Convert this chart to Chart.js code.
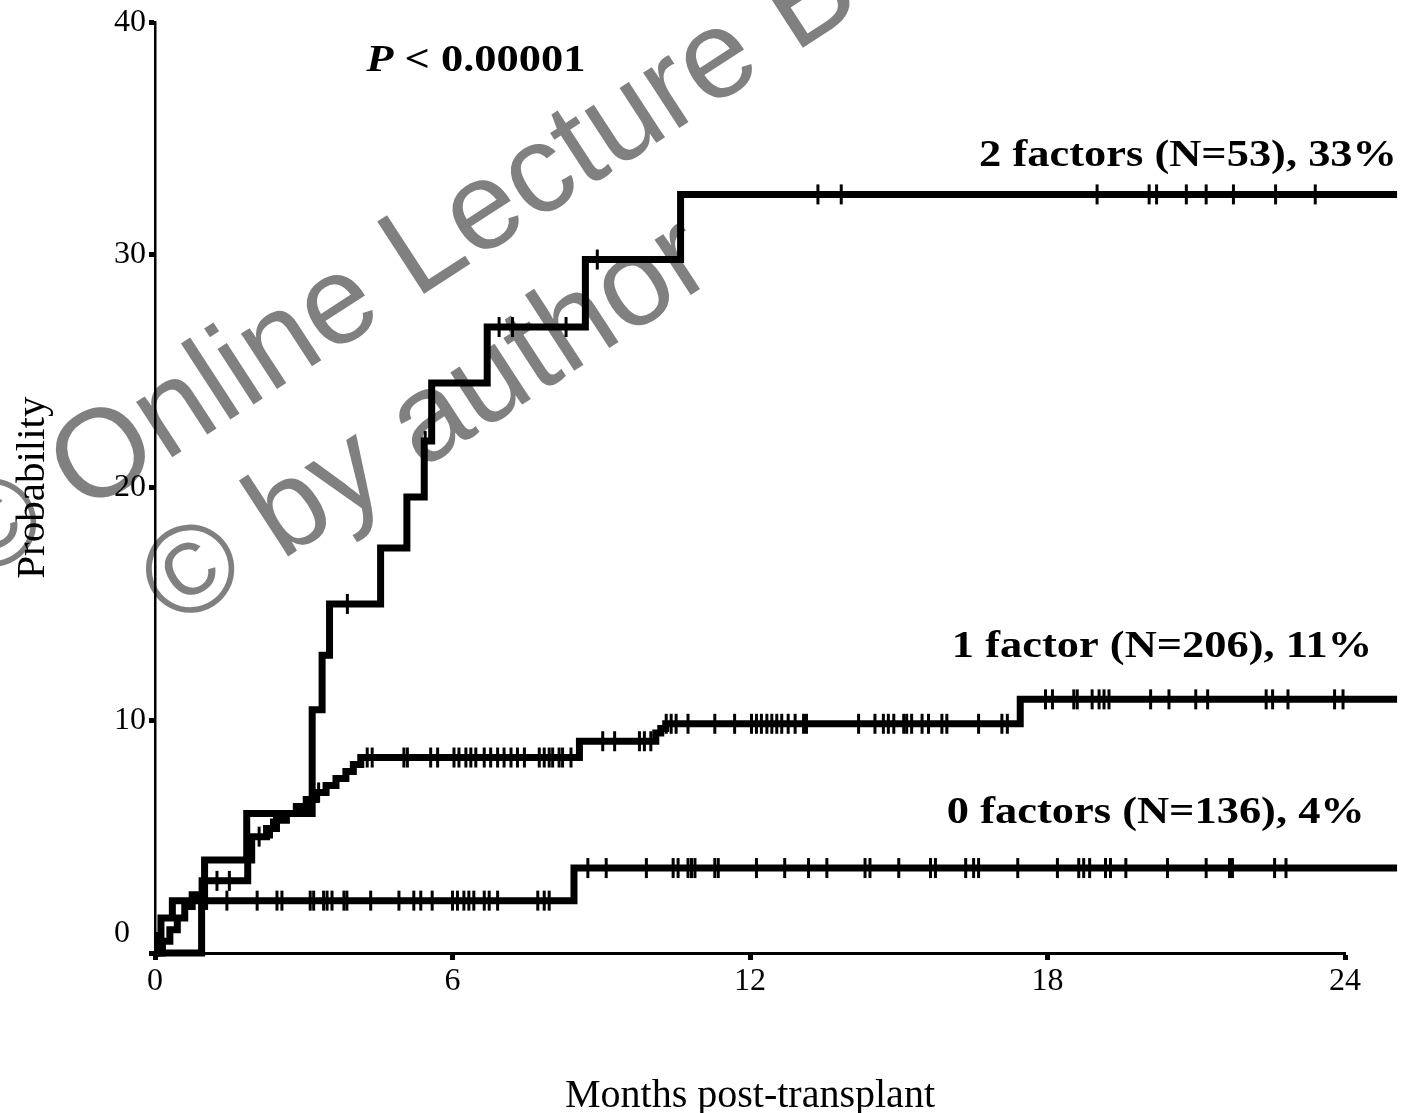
<!DOCTYPE html>
<html>
<head>
<meta charset="utf-8">
<script src="https://cdn.jsdelivr.net/npm/chart.js@4/dist/chart.umd.min.js"></script>
<style>
  html, body { margin: 0; padding: 0; background: #ffffff; }
  #wrap { width: 1412px; height: 1113px; position: relative; }
</style>
</head>
<body>
<div id="wrap"><canvas id="c"></canvas></div>
<script>
// ---------- tick labels / texts ----------
const xTickValues = [0, 6, 12, 18, 24];
const yTickValues = [0, 10, 20, 30, 40];
const xAxisTitle = 'Months post-transplant';
const yAxisTitle = 'Probability';
const pValueLetter = 'P';
const pValueRest = ' < 0.00001';
const seriesNames = ['2 factors (N=53), 33%', '1 factor (N=206), 11%', '0 factors (N=136), 4%'];
const watermarkLines = ['\u00A9 Online Lecture B', '\u00A9 by author'];

// ---------- 2 factors: step curve (month, %) and censor times ----------
const months2 = [0, 0.94, 1.0, 1.85, 3.17, 3.37, 3.52, 4.55, 5.08, 5.43, 5.58, 6.7, 8.68, 10.6, 25.05];
const prob2   = [0, 2.0, 4.0, 6.0, 10.45, 12.8, 15.0, 17.4, 19.6, 22.0, 24.5, 26.9, 29.8, 32.6, 32.6];
const censor2 = [3.88, 5.45, 6.94, 7.21, 8.29, 8.92, 13.37, 13.84, 19.0, 20.05, 20.2, 20.8, 21.2, 21.75, 22.6, 23.4];

// ---------- 1 factor ----------
const months1 = [0, 0.15, 0.3, 0.45, 0.6, 0.75, 0.95, 1.87, 1.95, 2.25, 2.45, 2.65, 2.85, 3.05, 3.25, 3.45, 3.65, 3.85, 4.0, 4.15, 8.56, 10.1, 10.2, 10.3, 17.45, 25.05];
const prob1   = [0, 0.5, 1.0, 1.5, 2.0, 2.5, 3.1, 4.0, 5.0, 5.35, 5.7, 6.0, 6.3, 6.6, 6.9, 7.2, 7.5, 7.8, 8.1, 8.4, 9.1, 9.45, 9.65, 9.85, 10.9, 10.9];
const censor1 = [1.25, 1.5, 2.1, 2.35, 3.15, 3.3, 4.28, 4.38, 5.02, 5.09, 5.56, 5.7, 6.03, 6.13, 6.27, 6.37, 6.47, 6.64, 6.77, 6.91, 7.04, 7.18, 7.31, 7.45, 7.75, 7.85, 7.95, 8.02, 8.15, 8.22, 8.39, 9.03, 9.27, 9.77, 9.87, 10.0, 10.31, 10.41, 10.51, 10.75, 11.29, 11.69, 12.03, 12.13, 12.23, 12.34, 12.44, 12.54, 12.64, 12.77, 12.91, 13.08, 13.14, 14.19, 14.52, 14.69, 14.79, 14.9, 15.1, 15.16, 15.26, 15.47, 15.6, 15.87, 15.97, 16.61, 17.08, 17.19, 17.96, 18.1, 18.53, 18.6, 18.9, 19.04, 19.14, 19.24, 20.08, 20.45, 20.99, 21.23, 22.41, 22.54, 22.85, 23.79, 23.96];

// ---------- 0 factors ----------
const months0 = [0, 0.05, 0.12, 0.35, 8.45, 25.05];
const prob0   = [0, 0.75, 1.5, 2.25, 3.65, 3.65];
const censor0 = [1.45, 2.06, 2.46, 2.56, 3.13, 3.2, 3.4, 3.47, 3.57, 3.81, 3.87, 4.35, 4.92, 5.22, 5.36, 5.59, 6.0, 6.1, 6.23, 6.33, 6.43, 6.64, 6.74, 6.91, 7.72, 7.85, 7.95, 8.73, 9.1, 9.91, 10.45, 10.55, 10.75, 10.82, 10.89, 11.29, 11.36, 12.13, 12.7, 13.18, 13.55, 14.32, 14.42, 15.0, 15.64, 15.74, 16.35, 16.51, 16.61, 17.4, 18.2, 18.63, 18.73, 18.85, 19.17, 19.27, 19.58, 20.42, 21.2, 21.67, 21.73, 22.58, 22.81];

// ---------- layout (not data) ----------
const labelAnchorMonth = [25.05, 24.55, 24.4];   // right edge of each series label
const labelAnchorProb  = [33.8, 12.7, 5.6];      // baseline of each series label
const pAnchor = { month: 4.26, prob: 37.9 };
const textStretch = 1.17;

// ---------- helpers ----------
function stepPoints(ts, vs) { return ts.map((t, i) => ({ x: t, y: vs[i] })); }
function levelAt(ts, vs, t) {
  let v = vs[0];
  for (let i = 0; i < ts.length; i++) { if (ts[i] <= t) v = vs[i]; else break; }
  return v;
}
function censorPoints(cs, ts, vs) { return cs.map(t => ({ x: t, y: levelAt(ts, vs, t) })); }

const lineStyle = {
  type: 'line', stepped: true, borderColor: '#000', borderWidth: 7, pointRadius: 0,
  fill: false, clip: false, tension: 0, borderJoinStyle: 'miter', borderCapStyle: 'butt'
};
const censorStyle = {
  type: 'scatter', showLine: false, pointStyle: 'line', pointRadius: 10, pointHoverRadius: 10,
  pointRotation: 90, pointBorderColor: '#000', pointBorderWidth: 3, borderColor: '#000',
  backgroundColor: '#000', clip: false
};

const annotate = {
  id: 'annotate',
  beforeDraw(chart) {
    const ctx = chart.ctx;
    ctx.save();
    ctx.fillStyle = '#ffffff';
    ctx.fillRect(0, 0, chart.width, chart.height);
    ctx.fillStyle = '#808080';
    ctx.font = '125px "Liberation Sans", Arial, sans-serif';
    ctx.textAlign = 'left';
    ctx.textBaseline = 'alphabetic';
    const starts = [[-23, 584], [175, 630]];
    watermarkLines.forEach((txt, i) => {
      ctx.save();
      ctx.translate(starts[i][0], starts[i][1]);
      ctx.rotate(-33 * Math.PI / 180);
      ctx.fillText(txt, 0, 0);
      ctx.restore();
    });
    ctx.restore();
  },
  afterDraw(chart) {
    const ctx = chart.ctx;
    const xs = chart.scales.x, ys = chart.scales.y;
    ctx.save();
    ctx.fillStyle = '#000';
    ctx.textBaseline = 'alphabetic';
    // series labels
    ctx.font = 'bold 38px "Liberation Serif", "Times New Roman", serif';
    seriesNames.forEach((name, i) => {
      ctx.save();
      ctx.translate(xs.getPixelForValue(labelAnchorMonth[i]), ys.getPixelForValue(labelAnchorProb[i]));
      ctx.scale(textStretch, 1);
      ctx.textAlign = 'right';
      ctx.fillText(name, 0, 0);
      ctx.restore();
    });
    // P value
    ctx.save();
    ctx.translate(xs.getPixelForValue(pAnchor.month), ys.getPixelForValue(pAnchor.prob));
    ctx.scale(textStretch, 1);
    ctx.textAlign = 'left';
    ctx.font = 'italic bold 38px "Liberation Serif", "Times New Roman", serif';
    ctx.fillText(pValueLetter, 0, 0);
    const w = ctx.measureText(pValueLetter).width;
    ctx.font = 'bold 38px "Liberation Serif", "Times New Roman", serif';
    ctx.fillText(pValueRest, w, 0);
    ctx.restore();
    ctx.restore();
  }
};

const serif = '"Liberation Serif", "Times New Roman", serif';

new Chart(document.getElementById('c'), {
  type: 'scatter',
  data: {
    datasets: [
      Object.assign({ label: seriesNames[0], data: stepPoints(months2, prob2) }, lineStyle),
      Object.assign({ label: seriesNames[1], data: stepPoints(months1, prob1) }, lineStyle),
      Object.assign({ label: seriesNames[2], data: stepPoints(months0, prob0) }, lineStyle),
      Object.assign({ label: 'censored 2', data: censorPoints(censor2, months2, prob2) }, censorStyle),
      Object.assign({ label: 'censored 1', data: censorPoints(censor1, months1, prob1) }, censorStyle),
      Object.assign({ label: 'censored 0', data: censorPoints(censor0, months0, prob0) }, censorStyle)
    ]
  },
  options: {
    responsive: true,
    maintainAspectRatio: false,
    animation: false,
    events: [],
    layout: { padding: { left: 0, top: 22, right: 67, bottom: 0 } },
    plugins: { legend: { display: false }, tooltip: { enabled: false } },
    scales: {
      x: {
        type: 'linear', min: 0, max: 24,
        afterBuildTicks: (s) => { s.ticks = xTickValues.map(v => ({ value: v })); },
        afterFit: (s) => { s.height = 160; },
        ticks: { color: '#000', font: { family: serif, size: 32 }, padding: 2, maxRotation: 0,
                 callback: (v) => String(v) },
        grid: { display: true, drawOnChartArea: false, drawTicks: true, tickLength: 7,
                tickWidth: 5, tickColor: '#000' },
        border: { display: true, color: '#000', width: 3 },
        title: { display: true, text: xAxisTitle, color: '#000',
                 font: { family: serif, size: 40, lineHeight: 0.83 }, padding: { top: 0, bottom: 0 } }
      },
      y: {
        type: 'linear', min: 0, max: 40,
        afterBuildTicks: (s) => { s.ticks = yTickValues.map(v => ({ value: v })); },
        afterFit: (s) => { s.width = 155; },
        ticks: { color: '#000', font: { family: serif, size: 32 }, padding: 3,
                 callback: (v) => v === 0 ? ['0  ', ''] : String(v) },
        grid: { display: true, drawOnChartArea: false, drawTicks: true, tickLength: 6,
                tickWidth: 5, tickColor: '#000' },
        border: { display: true, color: '#000', width: 2.5 },
        title: { display: true, text: yAxisTitle, color: '#000',
                 font: { family: serif, size: 41 }, padding: { top: 9, bottom: 0 } }
      }
    }
  },
  plugins: [annotate]
});
</script>
</body>
</html>
